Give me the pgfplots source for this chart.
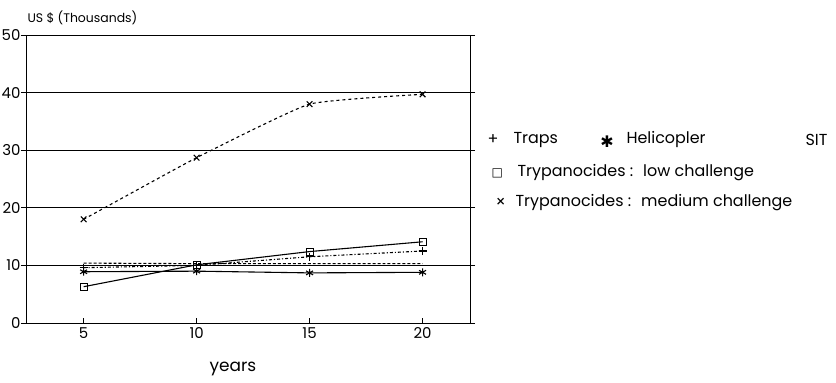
\documentclass[border=0pt]{standalone}
\usepackage{fontspec}
\setmainfont{Poppins}
\newfontfamily\symfont{DejaVu Sans}
\newcommand\tl{\fontsize{15}{17}\selectfont}
\usepackage{pgfplots}
\pgfplotsset{compat=1.18}
\begin{document}
\begin{tikzpicture}
\useasboundingbox (-26bp,-60bp) rectangle (810bp,323bp);
\begin{axis}[
  at={(0,0)}, anchor=south west,
  scale only axis, width=444bp, height=288bp,
  xmin=2.45, xmax=22.1, ymin=0, ymax=50,
  xtick={5,10,15,20}, ytick={0,10,20,30,40,50},
  xticklabels={{\tl 5},{\tl 10},{\tl 15},{\tl 20}},
  yticklabels={{\tl 0},{\tl 10},{\tl 20},{\tl 30},{\tl 40},{\tl 50}},
  ymajorgrids, grid style={black, line width=0.7pt},
  axis line style={line width=1pt},
  x tick style={black, line width=0.9pt},
  y tick style={black, line width=0.9pt},
  xtick align=inside, ytick align=outside,
  major tick length=5bp,
  ytick pos=both, xtick pos=bottom,
  yticklabel pos=left,
  xticklabel style={yshift=-1bp},
  yticklabel style={xshift=3bp},
  clip=false,
  every axis plot/.append style={black, line width=1.1pt},
]
% SIT
\addplot[densely dashed, no marks] coordinates {(5,10.4) (10,10.3) (15,10.3) (20,10.3)};
% Traps
\addplot[dash dot, mark=+, mark size=4bp, mark options={solid}] coordinates {(5,9.6) (10,10.0) (15,11.5) (20,12.5)};
% Helicopter
\addplot[solid, mark=asterisk, mark size=4bp] coordinates {(5,8.9) (10,9.0) (15,8.7) (20,8.8)};
% Low challenge
\addplot[solid, mark=square, mark size=3.5bp, mark options={fill=white}] coordinates {(5,6.3) (10,10.1) (15,12.4) (20,14.1)};
% Medium challenge
\addplot[dashed, mark=x, mark size=4bp, mark options={solid}, smooth, tension=0.25] coordinates {(5,18.0) (10,28.7) (15,38.0) (20,39.7)};
\end{axis}
\node[anchor=west, font=\fontsize{12.5}{14}\selectfont] at (-2bp,305bp) {US \$ (Thousands)};
\node[font=\fontsize{17}{19}\selectfont] at (207bp,-46bp) {years};
\begin{scope}[font=\fontsize{16}{19}\selectfont]
\node[anchor=west] at (458bp,183bp) {+};
\node[anchor=west] at (484bp,183bp) {Traps};
\node at (581bp,181bp) {{\symfont ✱}};
\node[anchor=west] at (597bp,183bp) {Helicopler};
\node[anchor=west] at (776bp,183bp) {SIT};
\node[anchor=west] at (462bp,150bp) {{\fontsize{12}{14}\selectfont\symfont □}};
\node[anchor=west] at (488bp,150bp) {Trypanocides :\hspace{10bp}low challenge};
\node[anchor=west] at (466bp,120bp) {×};
\node[anchor=west] at (486bp,120bp) {Trypanocides :\hspace{10bp}medium challenge};
\end{scope}
\end{tikzpicture}
\end{document}
